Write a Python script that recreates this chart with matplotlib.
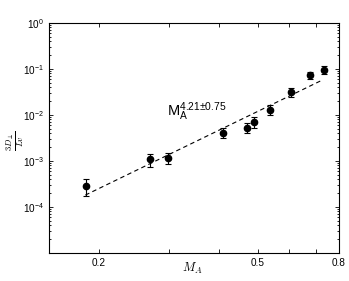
import numpy as np
import matplotlib
matplotlib.use("Agg")
import matplotlib.pyplot as plt
from matplotlib.ticker import FixedLocator, NullFormatter, FixedFormatter, LogLocator

plt.rcParams['font.family'] = ['Liberation Sans', 'DejaVu Sans']
plt.rcParams['mathtext.fontset'] = 'cm'

# Data
ma = [0.1855, 0.269, 0.299, 0.41, 0.47, 0.489, 0.538, 0.605, 0.676, 0.733]
dperp = [2.9e-4, 1.09e-3, 1.18e-3, 4.0e-3, 5.1e-3, 7.2e-3, 1.28e-2, 3.1e-2, 7.3e-2, 9.5e-2]
err_hi = [4.1e-4, 1.42e-3, 1.47e-3, 5.1e-3, 6.6e-3, 9.2e-3, 1.62e-2, 3.8e-2, 8.75e-2, 1.18e-1]
err_lo = [1.74e-4, 7.3e-4, 8.5e-4, 3.1e-3, 4.0e-3, 5.1e-3, 9.8e-3, 2.5e-2, 5.97e-2, 7.8e-2]
fit_exp = 4.21
fit_coef = 0.221
fit_range = [0.185, 0.73]
xtick_vals = [0.2, 0.3, 0.4, 0.5, 0.6, 0.7, 0.8]
xtick_labels = ['0.2', '', '', '0.5', '', '', '0.8']

fig = plt.figure(figsize=(3.49, 2.81), dpi=100)
ax = fig.add_axes([0.1404, 0.0996, 0.8309, 0.8184])

ma_a = np.array(ma)
d_a = np.array(dperp)
yerr = np.vstack([d_a - np.array(err_lo), np.array(err_hi) - d_a])
ax.errorbar(ma_a, d_a, yerr=yerr, fmt='o', color='black', ms=4.5,
            ecolor='black', elinewidth=0.8, capsize=2.2, capthick=0.8)

xf = np.logspace(np.log10(fit_range[0]), np.log10(fit_range[1]), 50)
ax.plot(xf, fit_coef * xf ** fit_exp, color='black', lw=0.8, dashes=(4, 3))

ax.set_xscale('log')
ax.set_yscale('log')
ax.set_xlim(0.15, 0.8)
ax.set_ylim(1e-5, 1)

ax.xaxis.set_major_locator(FixedLocator(xtick_vals))
ax.xaxis.set_major_formatter(FixedFormatter(xtick_labels))
ax.xaxis.set_minor_locator(FixedLocator([]))
ax.xaxis.set_minor_formatter(NullFormatter())
ax.yaxis.set_minor_locator(LogLocator(base=10, subs=np.arange(2, 10), numticks=10))
ax.yaxis.set_minor_formatter(NullFormatter())
ax.set_yticks([1e-4, 1e-3, 1e-2, 1e-1, 1e0])
ax.set_yticklabels([r'$\mathregular{10^{-4}}$', r'$\mathregular{10^{-3}}$', r'$\mathregular{10^{-2}}$',
                    r'$\mathregular{10^{-1}}$', r'$\mathregular{10^{0}}$'])

ax.tick_params(which='both', direction='in', top=True, right=True, labelsize=7.2, width=0.6)
ax.tick_params(which='major', length=3)
ax.tick_params(which='minor', length=1.5)
for s in ax.spines.values():
    s.set_linewidth(0.8)

ax.set_xlabel(r'$M_A$', fontsize=9, va='center')
ax.xaxis.set_label_coords(0.493, -0.065)
ax.set_ylabel(r'$\frac{3D_\perp}{Lv}$', fontsize=9, va='center')
ax.yaxis.set_label_coords(-0.118, 0.49)

ax.text(0.296, 9.5e-3, r'$\mathregular{M_A^{4.21{\pm}0.75}}$', fontsize=10.5,
        ha='left', va='baseline')

fig.savefig('out.png', dpi=100)
